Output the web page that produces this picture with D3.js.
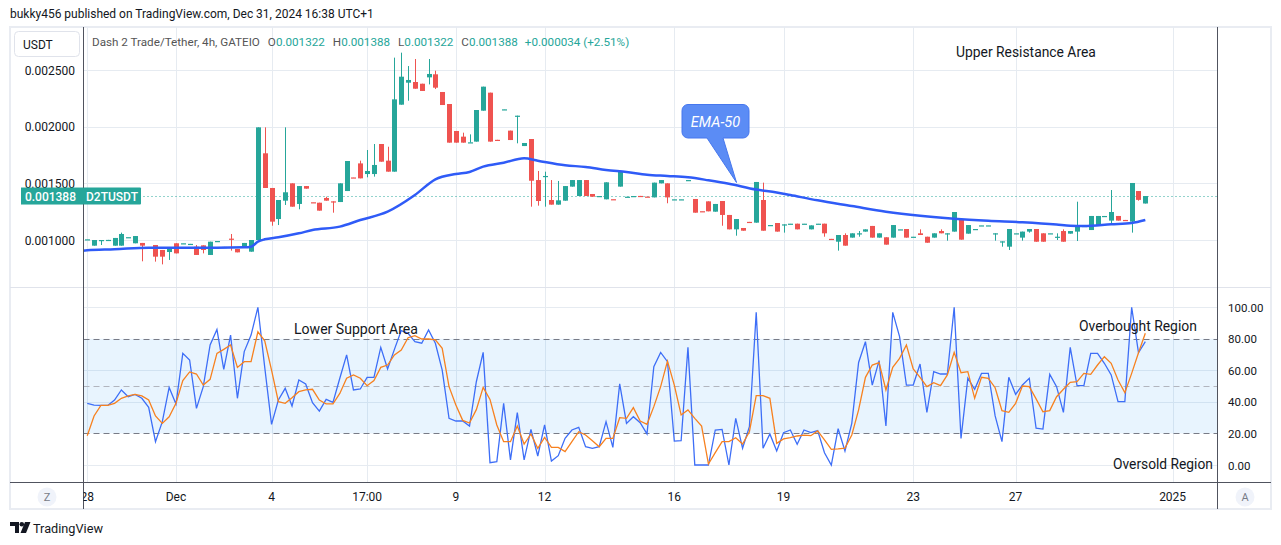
<!DOCTYPE html>
<html><head><meta charset="utf-8">
<script src="https://cdn.jsdelivr.net/npm/d3@7"></script>
<style>body{margin:0;background:#fff;overflow:hidden}svg{display:block}</style>
</head><body>
<svg id="c" width="1281" height="545"></svg>
<script>
// ---------- DATA (4h candles, D2T/USDT, GATEIO) ----------
const opens=[0.001005,0.000950,0.000997,0.001000,0.000950,0.000950,0.001024,0.000971,0.000974,0.000935,
0.000956,0.000912,0.000894,0.000971,0.000970,0.000965,0.000941,0.000953,0.000868,0.000990,
0.000938,0.001012,0.000921,0.000947,0.000897,0.001000,0.001765,0.001459,0.001185,0.001347,
0.001500,0.001318,0.001476,0.001333,0.001329,0.001371,0.001341,0.001335,0.001432,0.001552,
0.001676,0.001582,0.001582,0.001847,0.001700,0.001603,0.002194,0.002388,0.002394,0.002379,
0.002435,0.002462,0.002306,0.002200,0.001962,0.001912,0.001860,0.001868,0.002141,0.002300,
0.001884,0.002151,0.001965,0.002091,0.001829,0.001891,0.001529,0.001563,0.001353,0.001312,
0.001347,0.001471,0.001388,0.001529,0.001406,0.001387,0.001359,0.001360,0.001471,0.001381,
0.001387,0.001389,0.001383,0.001376,0.001500,0.001500,0.001358,0.001358,0.001528,0.001362,
0.001254,0.001341,0.001250,0.001344,0.001221,0.001094,0.001106,0.001160,0.001153,0.001353,
0.001131,0.001150,0.001136,0.001143,0.001144,0.001143,0.001094,0.001143,0.001144,0.001010,
0.000985,0.001044,0.001021,0.001058,0.001074,0.001124,0.001021,0.001024,0.001021,0.001093,
0.001097,0.001028,0.001059,0.001029,0.001021,0.001079,0.001058,0.001074,0.001182,0.001056,
0.001096,0.001128,0.001128,0.001058,0.000987,0.000941,0.001058,0.001021,0.001074,0.001097,
0.001059,0.001058,0.001028,0.001079,0.001056,0.001074,0.001123,0.001088,0.001124,0.001211,
0.001171,0.001212,0.001177,0.001162,0.001432,0.001322];
const highs=[0.001006,0.001000,0.001000,0.001001,0.001018,0.001065,0.001025,0.001035,0.000974,0.000936,
0.000956,0.000912,0.000921,0.000971,0.000971,0.000966,0.000956,0.000953,0.000985,0.000991,
0.000939,0.001053,0.000921,0.000974,0.001000,0.001994,0.001994,0.001459,0.001353,0.001994,
0.001500,0.001476,0.001476,0.001333,0.001329,0.001382,0.001341,0.001500,0.001697,0.001552,
0.001700,0.001794,0.001847,0.001847,0.001823,0.002609,0.002653,0.002535,0.002597,0.002379,
0.002597,0.002494,0.002306,0.002200,0.001962,0.001947,0.001932,0.002147,0.002353,0.002300,
0.001884,0.002153,0.001965,0.002097,0.001856,0.001891,0.001609,0.001603,0.001529,0.001521,
0.001476,0.001529,0.001529,0.001529,0.001406,0.001388,0.001509,0.001360,0.001603,0.001382,
0.001388,0.001389,0.001383,0.001506,0.001529,0.001500,0.001359,0.001359,0.001529,0.001362,
0.001254,0.001341,0.001318,0.001344,0.001221,0.001185,0.001106,0.001160,0.001512,0.001506,
0.001132,0.001150,0.001138,0.001144,0.001144,0.001144,0.001129,0.001144,0.001144,0.001010,
0.001044,0.001059,0.001059,0.001079,0.001094,0.001124,0.001059,0.001024,0.001132,0.001094,
0.001097,0.001029,0.001094,0.001029,0.001059,0.001094,0.001059,0.001247,0.001182,0.001132,
0.001097,0.001129,0.001129,0.001059,0.000988,0.001097,0.001059,0.001074,0.001097,0.001097,
0.001059,0.001059,0.001059,0.001094,0.001079,0.001338,0.001124,0.001212,0.001212,0.001212,
0.001441,0.001212,0.001177,0.001503,0.001432,0.001388];
const lows=[0.001005,0.000950,0.000956,0.001000,0.000950,0.000950,0.001024,0.000971,0.000812,0.000935,
0.000809,0.000785,0.000824,0.000882,0.000970,0.000965,0.000868,0.000882,0.000868,0.000990,
0.000938,0.000906,0.000891,0.000947,0.000897,0.001000,0.001459,0.001126,0.001132,0.001309,
0.001294,0.001271,0.001453,0.001332,0.001259,0.001347,0.001241,0.001335,0.001432,0.001550,
0.001544,0.001553,0.001559,0.001691,0.001603,0.001603,0.002194,0.002229,0.002335,0.002315,
0.002373,0.002332,0.002191,0.001859,0.001859,0.001859,0.001860,0.001868,0.002141,0.001868,
0.001882,0.002151,0.001882,0.001853,0.001829,0.001294,0.001303,0.001294,0.001312,0.001312,
0.001347,0.001471,0.001388,0.001388,0.001382,0.001387,0.001359,0.001359,0.001471,0.001381,
0.001387,0.001388,0.001382,0.001376,0.001500,0.001324,0.001358,0.001358,0.001528,0.001241,
0.001253,0.001253,0.001250,0.001126,0.001094,0.001038,0.001082,0.001159,0.001153,0.001082,
0.001131,0.001074,0.001065,0.001143,0.001094,0.001143,0.001094,0.001143,0.001029,0.001009,
0.000906,0.000950,0.001021,0.001029,0.001074,0.001021,0.001021,0.000959,0.001021,0.001093,
0.001021,0.001028,0.001044,0.000976,0.001021,0.001059,0.000994,0.001074,0.001003,0.001056,
0.001096,0.001128,0.001128,0.000994,0.000941,0.000912,0.001058,0.000994,0.001065,0.000985,
0.000985,0.001058,0.001000,0.000985,0.001056,0.000991,0.001123,0.001088,0.001124,0.001211,
0.001147,0.001171,0.001176,0.001065,0.001347,0.001322];
const closes=[0.001006,0.001000,0.001000,0.001001,0.001018,0.001053,0.001025,0.001035,0.000950,0.000936,
0.000853,0.000853,0.000921,0.000882,0.000971,0.000966,0.000868,0.000912,0.000985,0.000991,
0.000939,0.001006,0.000891,0.000974,0.001000,0.001994,0.001459,0.001162,0.001353,0.001421,
0.001294,0.001476,0.001453,0.001332,0.001259,0.001347,0.001338,0.001500,0.001697,0.001550,
0.001544,0.001609,0.001662,0.001691,0.001603,0.002241,0.002441,0.002412,0.002335,0.002315,
0.002465,0.002344,0.002191,0.001859,0.001859,0.001859,0.001862,0.002147,0.002353,0.001868,
0.001882,0.002153,0.001882,0.002097,0.001856,0.001523,0.001344,0.001565,0.001312,0.001350,
0.001476,0.001529,0.001529,0.001388,0.001382,0.001388,0.001509,0.001359,0.001603,0.001382,
0.001388,0.001388,0.001382,0.001506,0.001529,0.001376,0.001359,0.001359,0.001529,0.001241,
0.001253,0.001253,0.001318,0.001221,0.001094,0.001185,0.001082,0.001159,0.001512,0.001082,
0.001132,0.001074,0.001138,0.001144,0.001094,0.001144,0.001129,0.001144,0.001059,0.001009,
0.001044,0.000950,0.001059,0.001059,0.001094,0.001021,0.001059,0.000959,0.001132,0.001094,
0.001021,0.001029,0.001044,0.000976,0.001059,0.001059,0.001059,0.001247,0.001003,0.001132,
0.001097,0.001129,0.001129,0.001059,0.000988,0.001097,0.001059,0.001074,0.001097,0.000985,
0.000985,0.001059,0.001029,0.000985,0.001079,0.001121,0.001124,0.001212,0.001212,0.001212,
0.001247,0.001171,0.001176,0.001503,0.001354,0.001388];
// EMA-50 read at selected candle indices
const emaIndex=[-1,0,4,9,14,19,23,24,25,26,28,31,33,37,40,44,48,51,54,56,58,61,64,66,70,73,76,79,82,85,88,91,94,98,101,103,107,112,117,122,127,132,137,142,144,146,150,153,155];
const emaValue=[0.000904,0.000909,0.000918,0.000932,0.000932,0.000932,0.000935,0.000941,0.000985,0.001006,0.001024,0.001059,0.001088,0.001118,0.001176,0.001250,0.001397,0.001535,0.001582,0.001600,0.001647,0.001682,0.001721,0.001700,0.001659,0.001645,0.001618,0.001600,0.001576,0.001565,0.001553,0.001527,0.001497,0.001445,0.001420,0.001397,0.001350,0.001300,0.001250,0.001214,0.001188,0.001170,0.001157,0.001137,0.001126,0.001124,0.001139,0.001150,0.001176];
// RSI and its moving average, one value per candle
const rsi=[39.1,38.0,37.8,37.8,41.2,47.6,43.3,44.8,42.3,36.6,14.8,27.5,49.2,38.7,70.8,66.6,35.9,49.7,76.1,86.0,
60.7,82.4,42.3,71.9,82.4,100,62,25.8,41.2,48.6,37.4,53.9,51.4,39.5,34.2,41.6,39.7,55.0,69.8,47.6,
48.2,55.6,55.6,74.6,60.9,73.3,85.2,83.5,78.2,77.2,85.6,77.2,60.2,29.6,27.9,27.9,24.7,52.8,71.4,1.5,
2.1,39.1,3.2,33.2,3.2,22.6,5.7,25.4,2.5,5.9,16.9,22.2,23.9,11.6,10.6,11.6,27.5,11.2,51.4,26.4,
30.6,26.8,19.7,62.4,71.4,65.5,15.2,15.4,74.6,0,0,0,22.2,22.6,0,29.6,10.6,24.3,96.8,10.6,
19.7,8.9,20.5,22.2,13.1,22.2,20.5,21.8,7.8,0,23,8.9,26.4,65,78.2,50.7,66.2,24.7,96.8,81.4,
50.7,50.7,64.0,33.4,59.2,57.7,57.7,100,16.9,55.0,48.0,58.1,58.1,31.1,14.8,55.6,44.8,50.7,55.0,23.3,
22.8,57.5,49.7,33.4,74.6,50.3,50.3,70.8,70.8,64.5,57.1,40.2,40.2,100,71.2,78.2];
const rsiMA=[18.6,31.1,37.8,37.8,39.1,42.3,43.8,44.8,43.8,41.2,31.1,26.4,30.6,39.1,53.5,59.0,57.7,50.7,54.3,70.8,
73.3,76.1,61.9,65.5,65.5,84.5,78.8,60.2,40.2,39.1,42.7,46.5,47.6,48.0,41.2,38.7,38.7,45.4,55.0,57.1,
55.0,50.3,53.5,61.9,63.4,69.8,72.9,80.7,82.0,79.9,79.9,79.3,74.0,49.7,38.0,28.3,26.6,35.1,49.2,41.6,
25.4,14.8,14.8,24.7,13.3,19.7,10.6,17.5,11.2,11.2,8.5,14.8,21.1,19.0,15.4,11.6,16.9,16.9,30.0,29.6,
36.4,27.9,25.8,37.0,49.7,65.9,50.7,31.7,34.9,29.6,24.7,0.6,7.8,14.8,14.8,17.3,13.3,21.1,44.0,44.0,
42.3,13.7,16.5,17.3,18.4,19.0,18.6,21.6,15.9,9.9,10.2,10.7,19,35,55.6,63.4,64.9,47.6,61.9,67.6,
76.1,60.9,55.6,49.7,52.2,50.3,57.1,71.4,58.5,59.2,42.3,55.6,55.0,49.0,34.5,33.4,39.1,50.1,49.7,41.9,
33.8,34.5,43.3,48.0,52.4,52.8,58.1,57.5,63.4,68.7,64.5,53.9,45.9,58.1,71.2,83.5];
const priceTicks=[0.001,0.0015,0.002,0.0025];
const rsiTicks=[0,20,40,60,80,100];
const rsiGridTicks=[0,40,60,100];
const timeTickIndex=[0,13,27,41,54,67,86,102,121,136,159];
const timeTickLabels=["28","Dec","4","17:00","9","12","16","19","23","27","2025"];

// ---------- SETUP ----------
const FONT="Roboto, 'Noto Sans', 'Open Sans', sans-serif";
const GREEN="#26a69a", RED="#ef5350", TXT="#131722", GRID="#e6ebf1";
const svg=d3.select("#c").attr("font-family",FONT);
const x=d3.scaleLinear().domain([-0.62,165.5]).range([83,1217]);
const yP=d3.scaleLinear().domain([0.001,0.0025]).range([240,70]);
const yR=d3.scaleLinear().domain([0,100]).range([465,307.3]);
const PL=83.5, PR=1217.5, PT=27, PB=287, RB=482.5;

function fit(sel,w){const n=sel.node();const c=n.getComputedTextLength();if(c>0)sel.attr("font-size",parseFloat(sel.attr("font-size"))*w/c);return sel;}

const defs=svg.append("defs");
defs.append("clipPath").attr("id","cp").append("rect").attr("x",PL).attr("y",PT).attr("width",PR-PL).attr("height",PB-PT);
defs.append("clipPath").attr("id","cr").append("rect").attr("x",PL).attr("y",PB).attr("width",PR-PL).attr("height",RB-PB);
defs.append("clipPath").attr("id","ct").append("rect").attr("x",PL).attr("y",RB).attr("width",PR-PL).attr("height",26);

// header
fit(svg.append("text").attr("x",10).attr("y",18).attr("font-size",12.5).attr("fill",TXT)
  .text("bukky456 published on TradingView.com, Dec 31, 2024 16:38 UTC+1"),364);

// frame
svg.append("rect").attr("x",10).attr("y",PT).attr("width",1261).attr("height",482).attr("fill","none").attr("stroke","#e9ecf2").attr("stroke-width",2);

// gridlines price pane
const gP=svg.append("g").attr("clip-path","url(#cp)");
gP.selectAll(".hg").data(priceTicks).join("line").attr("x1",PL).attr("x2",PR)
  .attr("y1",d=>Math.round(yP(d))+0.5).attr("y2",d=>Math.round(yP(d))+0.5).attr("stroke",GRID);
gP.selectAll(".vg").data(timeTickIndex).join("line").attr("y1",PT).attr("y2",PB)
  .attr("x1",d=>Math.round(x(d))+0.5).attr("x2",d=>Math.round(x(d))+0.5).attr("stroke",GRID);

// RSI pane grid + band
const gR=svg.append("g").attr("clip-path","url(#cr)");
gR.selectAll(".hg").data(rsiGridTicks).join("line").attr("x1",PL).attr("x2",PR)
  .attr("y1",d=>Math.round(yR(d))+0.5).attr("y2",d=>Math.round(yR(d))+0.5).attr("stroke",GRID);
gR.selectAll(".vg").data(timeTickIndex).join("line").attr("y1",PB).attr("y2",RB)
  .attr("x1",d=>Math.round(x(d))+0.5).attr("x2",d=>Math.round(x(d))+0.5).attr("stroke",GRID);
gR.append("rect").attr("x",PL).attr("width",PR-PL).attr("y",yR(80)).attr("height",yR(20)-yR(80)).attr("fill","rgba(33,150,243,0.1)");
[[80,"#787b86"],[50,"#b2b5be"],[20,"#787b86"]].forEach(([v,c])=>{
  gR.append("line").attr("x1",PL).attr("x2",PR).attr("y1",Math.round(yR(v))+0.5).attr("y2",Math.round(yR(v))+0.5)
   .attr("stroke",c).attr("stroke-dasharray","6,4");
});

// pane separators and axes lines
svg.append("line").attr("x1",10).attr("x2",1271).attr("y1",PB+0.5).attr("y2",PB+0.5).attr("stroke","#e0e3eb");
svg.append("line").attr("x1",10).attr("x2",1271).attr("y1",RB).attr("y2",RB).attr("stroke","#50535e");
svg.append("line").attr("x1",PL).attr("x2",PL).attr("y1",PT).attr("y2",509).attr("stroke","#50535e");
svg.append("line").attr("x1",PR).attr("x2",PR).attr("y1",PT).attr("y2",509).attr("stroke","#50535e");

// last price dotted line
const last=closes.length-1;
gP.append("line").attr("x1",PL).attr("x2",PR).attr("y1",Math.round(yP(closes[last]))+0.5).attr("y2",Math.round(yP(closes[last]))+0.5)
  .attr("stroke",GREEN).attr("stroke-dasharray","1,3");

// candles
const idx=d3.range(opens.length);
const cg=gP.append("g");
cg.selectAll(".w").data(idx).join("line")
  .attr("x1",i=>Math.round(x(i))+0.5).attr("x2",i=>Math.round(x(i))+0.5)
  .attr("y1",i=>yP(highs[i])).attr("y2",i=>yP(lows[i]))
  .attr("stroke",i=>closes[i]>=opens[i]?GREEN:RED).attr("stroke-width",1);
cg.selectAll(".b").data(idx).join("rect")
  .attr("x",i=>Math.round(x(i))-2).attr("width",5)
  .attr("y",i=>Math.min(yP(opens[i]),yP(closes[i])))
  .attr("height",i=>Math.max(1.2,Math.abs(yP(opens[i])-yP(closes[i]))))
  .attr("fill",i=>closes[i]>=opens[i]?GREEN:RED);

// EMA-50
gP.append("path").datum(d3.zip(emaIndex,emaValue))
  .attr("d",d3.line().x(d=>x(d[0])).y(d=>yP(d[1])).curve(d3.curveMonotoneX))
  .attr("fill","none").attr("stroke","#2f5bf7").attr("stroke-width",2.5);

// RSI lines
gR.append("path").datum(rsi).attr("d",d3.line().x((d,i)=>x(i)).y(d=>yR(d)))
  .attr("fill","none").attr("stroke","#3d6ef7").attr("stroke-width",1.3);
gR.append("path").datum(rsiMA).attr("d",d3.line().x((d,i)=>x(i)).y(d=>yR(d)))
  .attr("fill","none").attr("stroke","#f7811f").attr("stroke-width",1.3);

// price axis labels (left)
svg.selectAll(".pl").data(priceTicks).join("text").attr("x",75).attr("y",d=>yP(d)+4.5)
  .attr("text-anchor","end").attr("font-size",12).attr("fill",TXT).text(d=>d3.format(".6f")(d));
// RSI axis labels (right)
svg.selectAll(".rl").data(rsiTicks).join("text").attr("x",1228).attr("y",d=>yR(d)+4.5)
  .attr("font-size",11.5).attr("fill",TXT).text(d=>d3.format(".2f")(d));
// time labels
svg.append("g").attr("clip-path","url(#ct)").selectAll("text").data(timeTickIndex).join("text")
  .attr("x",d=>x(d)).attr("y",501).attr("text-anchor","middle").attr("font-size",12).attr("fill",TXT)
  .text((d,i)=>timeTickLabels[i]);

// last price badges
const ly=yP(closes[last]);
svg.append("rect").attr("x",21).attr("y",ly-8.5).attr("width",62).attr("height",17).attr("fill",GREEN);
svg.append("rect").attr("x",83).attr("y",ly-8.5).attr("width",58).attr("height",17).attr("rx",1).attr("fill",GREEN);
svg.append("text").attr("x",76).attr("y",ly+4.5).attr("text-anchor","end").attr("font-size",12).attr("font-weight",500).attr("fill","#fff").text(d3.format(".6f")(closes[last]));
svg.append("text").attr("x",112).attr("y",ly+4.5).attr("text-anchor","middle").attr("font-size",12).attr("font-weight",500).attr("fill","#fff").text("D2TUSDT");

// USDT button
svg.append("rect").attr("x",14.5).attr("y",31.5).attr("width",65).attr("height",25).attr("rx",4).attr("fill","#fff").attr("stroke","#e0e3eb");
svg.append("text").attr("x",23).attr("y",48.5).attr("font-size",12).attr("fill",TXT).text("USDT");

// legend
const f6=d3.format(".6f");
const chg=closes[last]-closes[last-1];
const leg=svg.append("text").attr("x",92).attr("y",46).attr("font-size",12).attr("fill","#555");
leg.append("tspan").text("Dash 2 Trade/Tether, 4h, GATEIO");
[["O",opens[last]],["H",highs[last]],["L",lows[last]],["C",closes[last]]].forEach(([k,v],j)=>{
  leg.append("tspan").attr("dx",8).attr("fill","#555").text(k);
  leg.append("tspan").attr("fill",GREEN).text(f6(v));
});
leg.append("tspan").attr("dx",7).attr("fill",GREEN).text("+"+f6(chg)+" ("+"+"+d3.format(".2f")(chg/closes[last-1]*100)+"%)");
fit(leg,499);

// annotations
fit(svg.append("text").attr("x",956).attr("y",57).attr("font-size",14).attr("fill",TXT).text("Upper Resistance Area"),140);
fit(svg.append("text").attr("x",294).attr("y",334).attr("font-size",14).attr("fill",TXT).text("Lower Support Area"),124);
fit(svg.append("text").attr("x",1079).attr("y",331).attr("font-size",14).attr("fill",TXT).text("Overbought Region"),118);
fit(svg.append("text").attr("x",1113).attr("y",469).attr("font-size",14).attr("fill",TXT).text("Oversold Region"),100);

// EMA-50 callout
const bx0=682,by0=104.5,bx1=749,by1=138,r=6;
const cp=d3.path();
cp.moveTo(bx0+r,by0);cp.lineTo(bx1-r,by0);cp.arcTo(bx1,by0,bx1,by0+r,r);cp.lineTo(bx1,by1-r);cp.arcTo(bx1,by1,bx1-r,by1,r);
cp.lineTo(723,by1);cp.lineTo(736.5,182.5);cp.lineTo(707,by1);
cp.lineTo(bx0+r,by1);cp.arcTo(bx0,by1,bx0,by1-r,r);cp.lineTo(bx0,by0+r);cp.arcTo(bx0,by0,bx0+r,by0,r);cp.closePath();
svg.append("path").attr("d",cp.toString()).attr("fill","#5b8cf5").attr("stroke","#4677ee").attr("stroke-width",1);
svg.append("text").attr("x",715.5).attr("y",126.5).attr("text-anchor","middle").attr("font-size",14.5).attr("font-style","italic").attr("fill","#fff").text("EMA-50");

// Z / A buttons
[[47,"Z"],[1245,"A"]].forEach(([cx,t])=>{
  svg.append("circle").attr("cx",cx).attr("cy",497).attr("r",9.5).attr("fill","#f0f3fa");
  svg.append("text").attr("x",cx).attr("y",501).attr("text-anchor","middle").attr("font-size",11).attr("fill","#787b86").text(t);
});

// TradingView logo
const lg=svg.append("g").attr("fill",TXT);
lg.append("path").attr("d","M10 522 H19 V533 H15 V526 H10 Z");
lg.append("circle").attr("cx",21.8).attr("cy",524.3).attr("r",2.3);
lg.append("path").attr("d","M25 522 H30.5 L26 533 H20.5 Z");
fit(svg.append("text").attr("x",33).attr("y",532.5).attr("font-size",14).attr("fill",TXT).text("TradingView"),70);
</script>
</body></html>
